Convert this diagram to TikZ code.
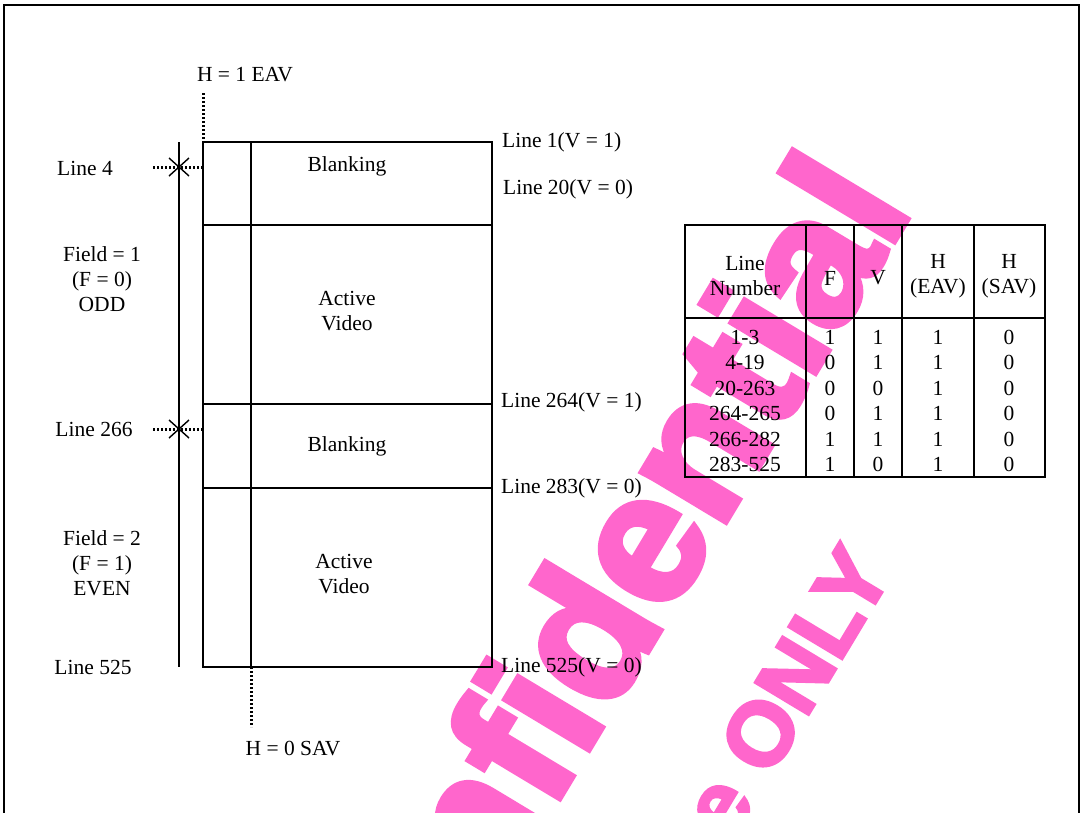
\documentclass[tikz,border=0pt]{standalone}
\usepackage{fontspec}
\setmainfont{Liberation Serif}
\newfontfamily\wmfont[FakeBold=3.5]{Liberation Sans}
\usetikzlibrary{calc}
\definecolor{wmpink}{HTML}{FF66CC}
\begin{document}
\begin{tikzpicture}[
    x=1pt, y=-1pt,
    every node/.style={font=\fontsize{21.5}{25}\selectfont, inner sep=0pt},
    frame/.style={line width=2pt},
    dotline/.style={line width=3pt, dash pattern=on 2.4pt off 1.6pt},
    cross/.style={line width=1.4pt},
    watermark/.style={text=wmpink, rotate=59, font=\wmfont\bfseries\fontsize{184}{184}\selectfont}
]
\useasboundingbox (0,0) rectangle (1083,812);
% watermark behind the drawing
\begin{scope}
\clip (0,0) rectangle (1083,812);
\node[watermark, anchor=base east] (conf) at (914,208) {Confidential};
\node[watermark, anchor=base east, font=\wmfont\bfseries\fontsize{90}{90}\selectfont] (only) at (894,572) {Use ONLY};
\end{scope}
% page frame
\draw[line width=2.6pt] (4,830) -- (4,5) -- (1079,5) -- (1079,830);
% field frame
\coordinate (tl) at (203,142);
\coordinate (br) at (492,667);
\draw[frame] (tl) rectangle (br);
\draw[frame] (251,142) -- (251,667);
\foreach \y in {225,404,488}
    \draw[frame] (203,\y) -- (492,\y);
\draw[frame] (179,142) -- (179,667);
% EAV / SAV markers
\node (eav) at (245,75) {H = 1 EAV};
\coordinate (eavtop) at (203,93);
\draw[dotline] (eavtop) -- (tl);
\node (sav) at (293,748) {H = 0 SAV};
\coordinate (savtop) at (251,667);
\coordinate (savbot) at (251,727);
\draw[dotline] (savtop) -- (savbot);
% line markers
\foreach \y/\name in {167/line4, 429/line266} {
    \coordinate (\name) at (179,\y);
    \draw[dotline] (153,\y) -- (203,\y);
    \draw[cross] ($(\name)+(-10,-9)$) -- ($(\name)+(10,9)$);
    \draw[cross] ($(\name)+(-10,9)$) -- ($(\name)+(10,-9)$);
}
\node (l4) at (85,168) {Line 4};
\node (l266) at (94,429) {Line 266};
\node (l525) at (93,667) {Line 525};
\node[align=center] (f1) at (102,279) {Field = 1\\(F = 0)\\ODD};
\node[align=center] (f2) at (102,563) {Field = 2\\(F = 1)\\EVEN};
% field contents
\node (b1) at (347,166) {Blanking};
\node[align=center] (a1) at (347,311) {Active\\Video};
\node (b2) at (347,446) {Blanking};
\node[align=center] (a2) at (344,574) {Active\\Video};
% line numbers on the right
\node[anchor=west] (r1) at (502,142) {Line 1(V = 1)};
\node[anchor=west] (r20) at (503,189) {Line 20(V = 0)};
\node[anchor=west] (r264) at (501,402) {Line 264(V = 1)};
\node[anchor=west] (r283) at (501,488) {Line 283(V = 0)};
\node[anchor=west] (r525) at (501,667) {Line 525(V = 0)};
% table
\coordinate (ttl) at (685,225);
\coordinate (tbr) at (1045,477);
\draw[frame] (ttl) rectangle (tbr);
\draw[frame] (685,318) -- (1045,318);
\foreach \x in {806,854,902,974}
    \draw[frame] (\x,225) -- (\x,477);
\node[align=center] (hln) at (745,276) {Line\\Number};
\node (hf) at (830,278) {F};
\node (hv) at (878,278) {V};
\node[align=center] (heav) at (938,276) {H\\(EAV)};
\node[align=center] (hsav) at (1009,276) {H\\(SAV)};
\foreach \ln/\f/\v/\he/\hs [count=\i] in {1-3/1/1/1/0, 4-19/0/1/1/0, 20-263/0/0/1/0, 264-265/0/1/1/0, 266-282/1/1/1/0, 283-525/1/0/1/0} {
    \pgfmathsetmacro{\y}{337+(\i-1)*25.5}
    \node (ln\i) at (745,\y) {\ln};
    \node (f\i) at (830,\y) {\f};
    \node (v\i) at (878,\y) {\v};
    \node (he\i) at (938,\y) {\he};
    \node (hs\i) at (1009,\y) {\hs};
}
\end{tikzpicture}
\end{document}
